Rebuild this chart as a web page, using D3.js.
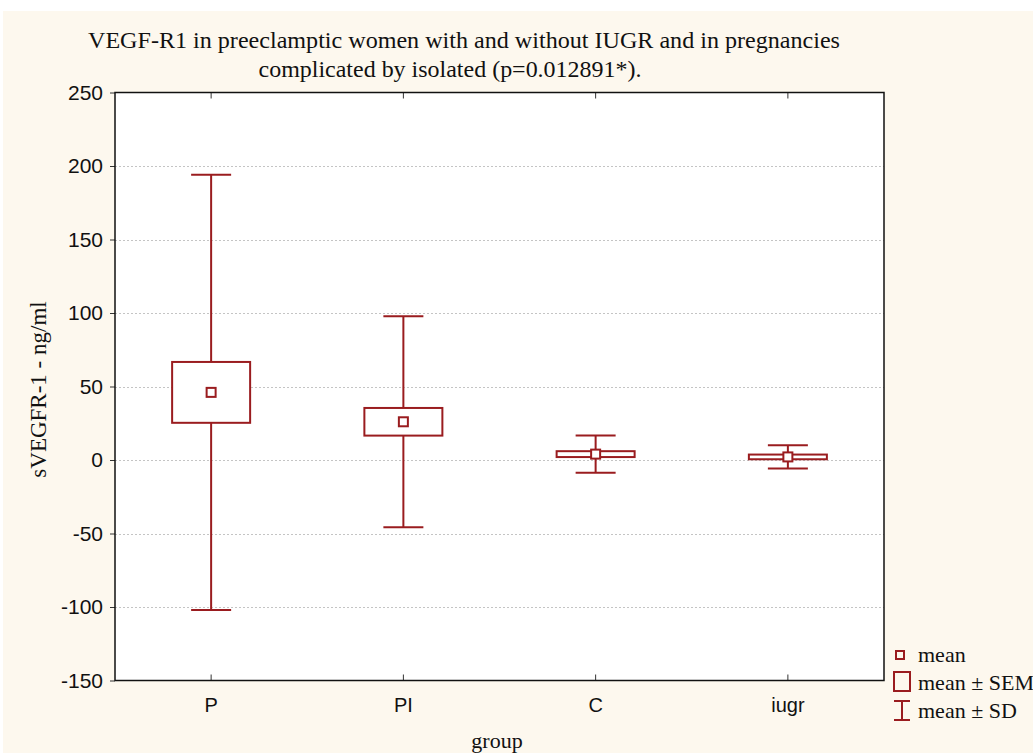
<!DOCTYPE html>
<html>
<head>
<meta charset="utf-8">
<script src="https://cdn.jsdelivr.net/npm/d3@7"></script>
<style>
  body { margin: 0; background: #fff; }
  svg { display: block; }
</style>
</head>
<body>
<div id="chart"></div>
<script>
// values
const groups = ["P", "PI", "C", "iugr"]
const means = [46, 26, 4.0, 2.1]
const sems = [20.7, 9.4, 2.0, 1.6]
const sds = [148, 71.8, 12.6, 7.9]
const yTicks = [250, 200, 150, 100, 50, 0, -50, -100, -150]

const W = 1033, H = 753
const red = "#9a1c1f"
const serif = "'Liberation Serif', 'Times New Roman', serif"
const sans = "'Liberation Sans', Arial, sans-serif"

const svg = d3.select("#chart").append("svg")
  .attr("width", W)
  .attr("height", H)

// cream page with a thin white strip top/left
svg.append("rect").attr("x", 3).attr("y", 11).attr("width", W).attr("height", H)
  .attr("fill", "#fdf8ee")

const pLeft = 115, pRight = 884, pTop = 92.5, pBottom = 680.5

const x = d3.scaleBand().domain(groups).range([pLeft, pRight])
const y = d3.scaleLinear().domain([-150, 250]).range([pBottom, pTop])

// plot area
svg.append("rect")
  .attr("x", pLeft).attr("y", pTop)
  .attr("width", pRight - pLeft).attr("height", pBottom - pTop)
  .attr("fill", "#fff")

// dotted grid
svg.append("g").selectAll("line")
  .data(yTicks.filter(d => d > -150 && d < 250))
  .enter().append("line")
  .attr("x1", pLeft).attr("x2", pRight)
  .attr("y1", d => Math.round(y(d)) + 0.5)
  .attr("y2", d => Math.round(y(d)) + 0.5)
  .attr("stroke", "#c4c4c4")
  .attr("stroke-dasharray", "2,2")

// y axis, plain hyphen for negatives
const yAxis = d3.axisLeft(y).tickValues(yTicks).tickSize(5).tickPadding(7)
  .tickFormat(d => String(d))
const gy = svg.append("g").attr("transform", `translate(${pLeft},0)`).call(yAxis)
gy.select(".domain").remove()
gy.selectAll("line").attr("stroke", "#333")
gy.selectAll("text").attr("font-family", sans).attr("font-size", 21).attr("fill", "#111")

// x axis (ticks inward, bottom and top)
svg.append("g").attr("transform", `translate(0,${pBottom})`)
  .call(d3.axisTop(x).tickSize(6).tickFormat(""))
  .call(g => g.select(".domain").remove())
  .selectAll("line").attr("stroke", "#333")
svg.append("g").attr("transform", `translate(0,${pTop})`)
  .call(d3.axisBottom(x).tickSize(6).tickFormat(""))
  .call(g => g.select(".domain").remove())
  .selectAll("line").attr("stroke", "#333")

svg.append("g").selectAll("text")
  .data(groups)
  .enter().append("text")
  .attr("x", d => x(d) + x.bandwidth() / 2)
  .attr("y", pBottom + 31)
  .attr("text-anchor", "middle")
  .attr("font-family", sans).attr("font-size", 20).attr("fill", "#111")
  .text(d => d)

// border
svg.append("rect")
  .attr("x", pLeft).attr("y", pTop)
  .attr("width", pRight - pLeft).attr("height", pBottom - pTop)
  .attr("fill", "none").attr("stroke", "#111").attr("stroke-width", 1.5)

// boxes
const rows = groups.map((g, i) => ({g: g, m: means[i], se: sems[i], sd: sds[i]}))
const cx = d => x(d.g) + x.bandwidth() / 2
const boxW = 78, capW = 40, dot = 9

const marks = svg.append("g").attr("stroke", red).attr("stroke-width", 2).attr("fill", "none")

marks.selectAll(".whisk").data(rows).enter().append("line")
  .attr("x1", cx).attr("x2", cx)
  .attr("y1", d => y(d.m + d.sd)).attr("y2", d => y(d.m - d.sd))
marks.selectAll(".capHi").data(rows).enter().append("line")
  .attr("x1", d => cx(d) - capW / 2).attr("x2", d => cx(d) + capW / 2)
  .attr("y1", d => y(d.m + d.sd)).attr("y2", d => y(d.m + d.sd))
marks.selectAll(".capLo").data(rows).enter().append("line")
  .attr("x1", d => cx(d) - capW / 2).attr("x2", d => cx(d) + capW / 2)
  .attr("y1", d => y(d.m - d.sd)).attr("y2", d => y(d.m - d.sd))
marks.selectAll(".box").data(rows).enter().append("rect")
  .attr("x", d => cx(d) - boxW / 2)
  .attr("y", d => y(d.m + d.se))
  .attr("width", boxW)
  .attr("height", d => y(d.m - d.se) - y(d.m + d.se))
  .attr("fill", "#fff")
marks.selectAll(".mean").data(rows).enter().append("rect")
  .attr("x", d => cx(d) - dot / 2)
  .attr("y", d => y(d.m) - dot / 2)
  .attr("width", dot).attr("height", dot)
  .attr("fill", "#fff")

// title (the original face is a narrow tall serif, so stretch to its width)
const title = svg.append("text")
  .attr("text-anchor", "middle")
  .attr("font-family", serif).attr("font-size", 23).attr("fill", "#111")
title.append("tspan").attr("x", 464).attr("y", 48)
  .attr("textLength", 752).attr("lengthAdjust", "spacingAndGlyphs")
  .text("VEGF-R1 in preeclamptic women with and without IUGR and in pregnancies")
title.append("tspan").attr("x", 450).attr("y", 77)
  .attr("textLength", 383).attr("lengthAdjust", "spacingAndGlyphs")
  .text("complicated by isolated (p=0.012891*).")

// axis titles
svg.append("text")
  .attr("transform", `translate(46,${(pTop + pBottom) / 2 + 3}) rotate(-90)`)
  .attr("text-anchor", "middle")
  .attr("font-family", serif).attr("font-size", 23).attr("fill", "#111")
  .text("sVEGFR-1 - ng/ml")
svg.append("text")
  .attr("x", 497).attr("y", 748)
  .attr("text-anchor", "middle")
  .attr("font-family", serif).attr("font-size", 22).attr("fill", "#111")
  .text("group")

// legend
const lg = svg.append("g").attr("transform", "translate(893,0)")
lg.append("rect").attr("x", 3).attr("y", 651).attr("width", 8).attr("height", 8)
  .attr("fill", "none").attr("stroke", red).attr("stroke-width", 2)
lg.append("rect").attr("x", 1).attr("y", 672).attr("width", 16).attr("height", 19)
  .attr("fill", "none").attr("stroke", red).attr("stroke-width", 2)
lg.append("path").attr("d", "M1,701H17M9,701V720M1,720H17")
  .attr("fill", "none").attr("stroke", red).attr("stroke-width", 2)
lg.selectAll("text").data(["mean", "mean \u00b1 SEM", "mean \u00b1 SD"]).enter().append("text")
  .attr("x", 25).attr("y", (d, i) => 662 + i * 28)
  .attr("font-family", serif).attr("font-size", 22).attr("fill", "#111")
  .text(d => d)
</script>
</body>
</html>
